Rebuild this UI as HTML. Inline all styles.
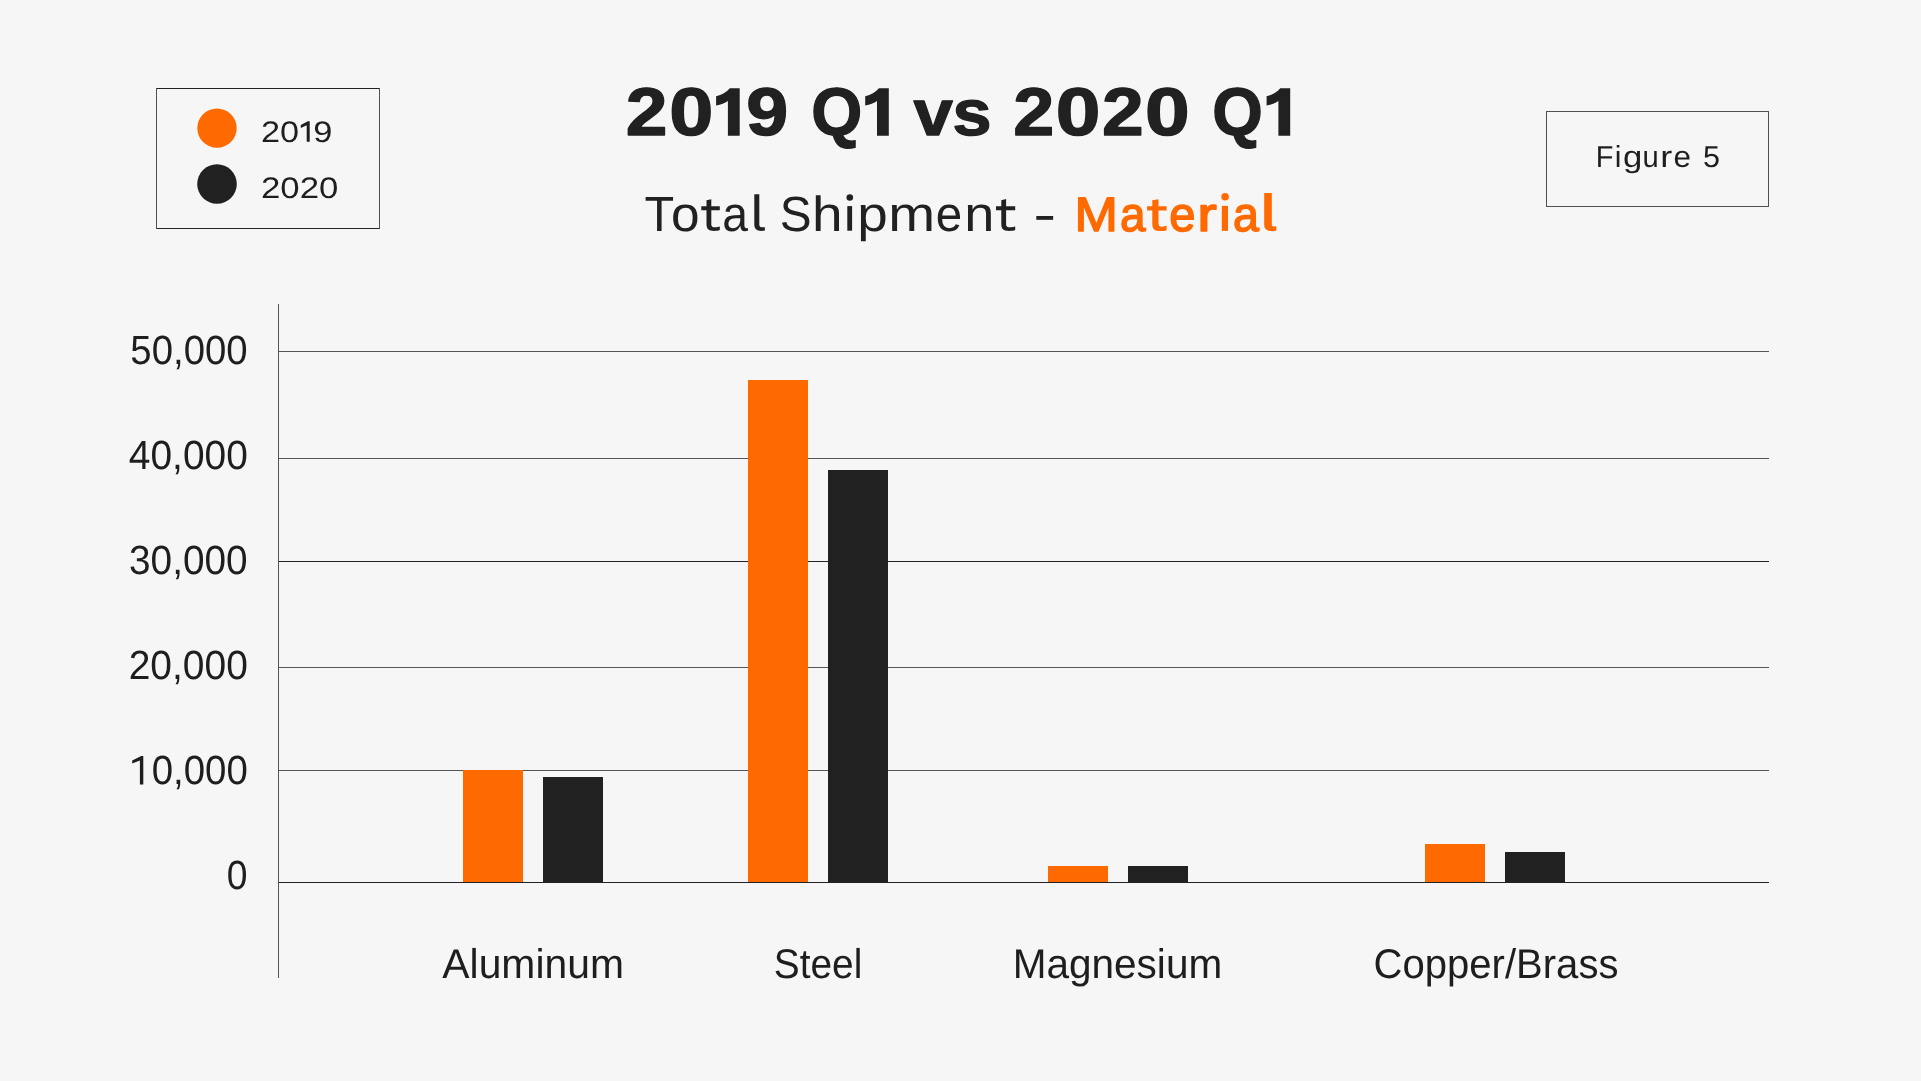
<!DOCTYPE html>
<html>
<head>
<meta charset="utf-8">
<style>
html,body{margin:0;padding:0;background:#f6f6f6;}
body{width:1921px;height:1081px;overflow:hidden;}
svg{display:block;}
.ov{position:absolute;left:0;top:0;will-change:transform;}
text{font-family:"Liberation Sans",sans-serif;text-rendering:geometricPrecision;}
</style>
</head>
<body>
<svg width="1921" height="1081" viewBox="0 0 1921 1081" shape-rendering="crispEdges">
<rect x="0" y="0" width="1921" height="1081" fill="#f6f6f6"/>

<!-- Legend box -->
<rect x="156" y="88" width="224" height="1" fill="#222"/>
<rect x="156" y="228" width="224" height="1" fill="#222"/>
<rect x="156" y="88" width="1" height="141" fill="#505050"/>
<rect x="379" y="88" width="1" height="141" fill="#505050"/>
<g shape-rendering="geometricPrecision">
<circle cx="217" cy="128.1" r="19.7" fill="#ff6a00"/>
<circle cx="217" cy="184" r="19.8" fill="#212121"/>
</g>

<!-- Figure box -->
<rect x="1546" y="111" width="223" height="1" fill="#505050"/>
<rect x="1546" y="206" width="223" height="1" fill="#505050"/>
<rect x="1546" y="111" width="1" height="96" fill="#505050"/>
<rect x="1768" y="111" width="1" height="96" fill="#505050"/>

<!-- Axis -->
<rect x="278" y="304" width="1" height="674" fill="#555"/>

<!-- Gridlines -->
<rect x="279" y="351" width="1490" height="1" fill="#555"/>
<rect x="279" y="458" width="1490" height="1" fill="#555"/>
<rect x="279" y="561" width="1490" height="1" fill="#222"/>
<rect x="279" y="667" width="1490" height="1" fill="#555"/>
<rect x="279" y="770" width="1490" height="1" fill="#555"/>

<!-- Bars -->
<rect x="463" y="770" width="60" height="113" fill="#ff6a00"/>
<rect x="543" y="777" width="60" height="106" fill="#212121"/>
<rect x="748" y="380" width="60" height="503" fill="#ff6a00"/>
<rect x="828" y="470" width="60" height="413" fill="#212121"/>
<rect x="1048" y="866" width="60" height="17" fill="#ff6a00"/>
<rect x="1128" y="866" width="60" height="17" fill="#212121"/>
<rect x="1425" y="844" width="60" height="39" fill="#ff6a00"/>
<rect x="1505" y="852" width="60" height="31" fill="#212121"/>
<rect x="279" y="882" width="1490" height="1" fill="#222"/>

</svg>
<svg class="ov" width="1921" height="1081" viewBox="0 0 1921 1081">
<text x="625.73" y="135.25" font-size="67.6" font-weight="bold" fill="#212121" stroke="#212121" stroke-width="1.3" stroke-linejoin="round" textLength="41.71" lengthAdjust="spacingAndGlyphs">2</text>
<text x="669.18" y="135.25" font-size="67.6" font-weight="bold" fill="#212121" stroke="#212121" stroke-width="1.3" stroke-linejoin="round" textLength="44.14" lengthAdjust="spacingAndGlyphs">0</text>
<text x="746.31" y="135.25" font-size="67.6" font-weight="bold" fill="#212121" stroke="#212121" stroke-width="1.3" stroke-linejoin="round" textLength="41.97" lengthAdjust="spacingAndGlyphs">9</text>
<text x="811.13" y="135.25" font-size="67.6" font-weight="bold" fill="#212121" stroke="#212121" stroke-width="1.3" stroke-linejoin="round" textLength="51.04" lengthAdjust="spacingAndGlyphs">Q</text>
<text x="913.40" y="135.25" font-size="64.7" font-weight="bold" fill="#212121" stroke="#212121" stroke-width="1.3" stroke-linejoin="round" textLength="39.39" lengthAdjust="spacingAndGlyphs">v</text>
<text x="952.49" y="135.25" font-size="64.7" font-weight="bold" fill="#212121" stroke="#212121" stroke-width="1.3" stroke-linejoin="round" textLength="39.05" lengthAdjust="spacingAndGlyphs">s</text>
<text x="1013.37" y="135.25" font-size="67.6" font-weight="bold" fill="#212121" stroke="#212121" stroke-width="1.3" stroke-linejoin="round" textLength="41.02" lengthAdjust="spacingAndGlyphs">2</text>
<text x="1055.73" y="135.25" font-size="67.6" font-weight="bold" fill="#212121" stroke="#212121" stroke-width="1.3" stroke-linejoin="round" textLength="44.73" lengthAdjust="spacingAndGlyphs">0</text>
<text x="1102.03" y="135.25" font-size="67.6" font-weight="bold" fill="#212121" stroke="#212121" stroke-width="1.3" stroke-linejoin="round" textLength="41.71" lengthAdjust="spacingAndGlyphs">2</text>
<text x="1145.03" y="135.25" font-size="67.6" font-weight="bold" fill="#212121" stroke="#212121" stroke-width="1.3" stroke-linejoin="round" textLength="44.73" lengthAdjust="spacingAndGlyphs">0</text>
<text x="1212.25" y="135.25" font-size="67.6" font-weight="bold" fill="#212121" stroke="#212121" stroke-width="1.3" stroke-linejoin="round" textLength="50.59" lengthAdjust="spacingAndGlyphs">Q</text>
<text x="644.54" y="230.70" font-size="49.3" fill="#212121" textLength="29.68" lengthAdjust="spacingAndGlyphs">T</text>
<text x="670.95" y="230.70" font-size="49.3" fill="#212121" textLength="28.57" lengthAdjust="spacingAndGlyphs">o</text>
<text x="722.22" y="230.70" font-size="49.3" fill="#212121" textLength="25.74" lengthAdjust="spacingAndGlyphs">a</text>
<text x="779.66" y="230.70" font-size="49.3" fill="#212121" textLength="31.79" lengthAdjust="spacingAndGlyphs">S</text>
<text x="812.05" y="230.70" font-size="49.3" fill="#212121" textLength="30.59" lengthAdjust="spacingAndGlyphs">h</text>
<text x="857.33" y="230.70" font-size="49.3" fill="#212121" textLength="30.53" lengthAdjust="spacingAndGlyphs">p</text>
<text x="888.34" y="230.70" font-size="49.3" fill="#212121" textLength="46.89" lengthAdjust="spacingAndGlyphs">m</text>
<text x="935.76" y="230.70" font-size="49.3" fill="#212121" textLength="26.43" lengthAdjust="spacingAndGlyphs">e</text>
<text x="964.38" y="230.70" font-size="49.3" fill="#212121" textLength="30.10" lengthAdjust="spacingAndGlyphs">n</text>
<text x="1033.20" y="230.70" font-size="49.3" fill="#212121" textLength="22.97" lengthAdjust="spacingAndGlyphs">-</text>
<text x="1074.58" y="230.65" font-size="48.2" fill="#ff6a00" stroke="#ff6a00" stroke-width="1.5" stroke-linejoin="round" textLength="43.39" lengthAdjust="spacingAndGlyphs">M</text>
<text x="1119.99" y="230.65" font-size="48.2" fill="#ff6a00" stroke="#ff6a00" stroke-width="1.5" stroke-linejoin="round" textLength="25.52" lengthAdjust="spacingAndGlyphs">a</text>
<text x="1169.23" y="230.65" font-size="48.2" fill="#ff6a00" stroke="#ff6a00" stroke-width="1.5" stroke-linejoin="round" textLength="26.19" lengthAdjust="spacingAndGlyphs">e</text>
<text x="1197.23" y="230.65" font-size="48.2" fill="#ff6a00" stroke="#ff6a00" stroke-width="1.5" stroke-linejoin="round" textLength="19.58" lengthAdjust="spacingAndGlyphs">r</text>
<text x="1232.95" y="230.65" font-size="48.2" fill="#ff6a00" stroke="#ff6a00" stroke-width="1.5" stroke-linejoin="round" textLength="25.95" lengthAdjust="spacingAndGlyphs">a</text>
<text x="260.99" y="141.90" font-size="29.7" fill="#1e1e1e" textLength="38.09" lengthAdjust="spacingAndGlyphs">20</text>
<text x="313.15" y="141.90" font-size="29.7" fill="#1e1e1e" textLength="19.14" lengthAdjust="spacingAndGlyphs">9</text>
<text x="260.96" y="197.60" font-size="29.7" fill="#1e1e1e" textLength="77.42" lengthAdjust="spacingAndGlyphs">2020</text>
<text x="1595.68" y="166.70" font-size="30.3" fill="#1e1e1e" textLength="17.70" lengthAdjust="spacingAndGlyphs">F</text>
<text x="1614.85" y="166.70" font-size="30.3" fill="#1e1e1e" textLength="6.67" lengthAdjust="spacingAndGlyphs">i</text>
<text x="1622.91" y="166.70" font-size="30.3" fill="#1e1e1e" textLength="19.28" lengthAdjust="spacingAndGlyphs">g</text>
<text x="1642.40" y="166.70" font-size="30.3" fill="#1e1e1e" textLength="16.23" lengthAdjust="spacingAndGlyphs">u</text>
<text x="1660.26" y="166.70" font-size="30.3" fill="#1e1e1e" textLength="11.99" lengthAdjust="spacingAndGlyphs">r</text>
<text x="1673.49" y="166.70" font-size="30.3" fill="#1e1e1e" textLength="17.46" lengthAdjust="spacingAndGlyphs">e</text>
<text x="1702.88" y="166.70" font-size="30.3" fill="#1e1e1e" textLength="16.98" lengthAdjust="spacingAndGlyphs">5</text>
<text x="130.37" y="364.40" font-size="40.8" fill="#1e1e1e" textLength="117.21" lengthAdjust="spacingAndGlyphs">50,000</text>
<text x="128.83" y="469.40" font-size="40.8" fill="#1e1e1e" textLength="118.97" lengthAdjust="spacingAndGlyphs">40,000</text>
<text x="129.05" y="574.40" font-size="40.8" fill="#1e1e1e" textLength="118.55" lengthAdjust="spacingAndGlyphs">30,000</text>
<text x="128.65" y="679.40" font-size="40.8" fill="#1e1e1e" textLength="119.15" lengthAdjust="spacingAndGlyphs">20,000</text>
<text x="151.66" y="784.40" font-size="40.8" fill="#1e1e1e" textLength="96.08" lengthAdjust="spacingAndGlyphs">0,000</text>
<text x="226.81" y="889.40" font-size="40.8" fill="#1e1e1e" textLength="20.72" lengthAdjust="spacingAndGlyphs">0</text>
<text x="442.30" y="977.70" font-size="41.5" fill="#1e1e1e" textLength="181.70" lengthAdjust="spacingAndGlyphs">Aluminum</text>
<text x="773.85" y="977.70" font-size="41.5" fill="#1e1e1e" textLength="88.44" lengthAdjust="spacingAndGlyphs">Steel</text>
<text x="1012.66" y="977.70" font-size="41.5" fill="#1e1e1e" textLength="209.54" lengthAdjust="spacingAndGlyphs">Magnesium</text>
<text x="1373.60" y="977.70" font-size="41.5" fill="#1e1e1e" textLength="244.86" lengthAdjust="spacingAndGlyphs">Copper/Brass</text>
<path d="M729.8 88.2L739.7 88.2L739.7 135.8L727.9 135.8L727.9 101C724.9 103.3 720.9 104.8 716.1 105.6L716.1 96.2C721.9 95 726.4 92 729.8 88.2Z" fill="#212121"/>
<path d="M878.9 88.2L888.8 88.2L888.8 135.8L877.0 135.8L877.0 101C874.0 103.3 870.0 104.8 865.2 105.6L865.2 96.2C871.0 95 875.5 92 878.9 88.2Z" fill="#212121"/>
<path d="M1280.3 88.2L1290.2 88.2L1290.2 135.8L1278.4 135.8L1278.4 101C1275.4 103.3 1271.4 104.8 1266.6 105.6L1266.6 96.2C1272.4 95 1276.9 92 1280.3 88.2Z" fill="#212121"/>
<path d="M754.3 194.2L759.3 194.2L759.3 224.5C759.3 226.8 760.6 227.3 762.5 227.3L764.9 227.2L764.9 230.5C763.8 230.8 762.7 230.9 761.5 230.9C756.5 230.9 754.3 228.7 754.3 224.5Z" fill="#212121"/>
<path d="M1264.2 193.1L1271.8 193.1L1271.8 224.5C1271.8 226 1272.6 226.4 1274 226.4L1276.3 226.3L1276.3 230.6C1275.2 231 1274 231.2 1272.5 231.2C1266.8 231.2 1264.2 229 1264.2 224.8Z" fill="#ff6a00"/>
<path d="M706.5 200.3L711.3 199.2L711.3 206.2L719.8 206.2L719.8 210.3L711.3 210.3L711.3 224.2C711.3 226.6 712.7 227.3 714.9 227.3C716.8 227.3 718.5 226.7 719.8 226.4L719.8 230.1C718.2 230.7 716.6 230.9 714.5 230.9C708.1 230.9 706.5 228.6 706.5 224.0L706.5 210.3L701.3 210.3L701.3 206.2L706.5 206.2Z" fill="#212121"/>
<path d="M1001.3 200.2L1006.1 199.1L1006.1 206.2L1015.2 206.2L1015.2 210.3L1006.1 210.3L1006.1 224.2C1006.1 226.6 1007.5 227.3 1009.7 227.3C1012.2 227.3 1013.9 226.7 1015.2 226.4L1015.2 230.1C1013.6 230.7 1012.0 230.9 1009.3 230.9C1002.9 230.9 1001.3 228.6 1001.3 224.0L1001.3 210.3L996.0 210.3L996.0 206.2L1001.3 206.2Z" fill="#212121"/>
<path d="M1152.3 200.3L1158.5 199.2L1158.5 206.2L1166.6 206.2L1166.6 210.6L1158.5 210.6L1158.5 223.6C1158.5 226.0 1159.9 226.7 1162.1 226.7C1163.6 226.7 1165.3 226.1 1166.6 225.8L1166.6 230.3C1165.0 230.9 1163.4 231.1 1161.7 231.1C1153.9 231.1 1152.3 228.8 1152.3 223.4L1152.3 210.6L1147.1 210.6L1147.1 206.2L1152.3 206.2Z" fill="#ff6a00"/>
<rect x="847.3" y="206.1" width="4.8" height="24.6" fill="#212121"/><circle cx="849.8" cy="197.5" r="3.3" fill="#212121"/>
<rect x="1221.8" y="205.9" width="6.2" height="25.0" fill="#ff6a00"/><circle cx="1225.1" cy="196.8" r="3.8" fill="#ff6a00"/>
<path d="M307.9 121.3L309.7 121.3L309.7 141.8L306.7 141.8L306.7 125.2L300.8 127.9L300.8 125.1Z" fill="#1e1e1e"/>
<path d="M141.2 756.1L143.3 756.1L143.3 784.5L139.9 784.5L139.9 760.6L132.2 763.5L132.2 760.4Z" fill="#1e1e1e"/>
</svg>
</body>
</html>
